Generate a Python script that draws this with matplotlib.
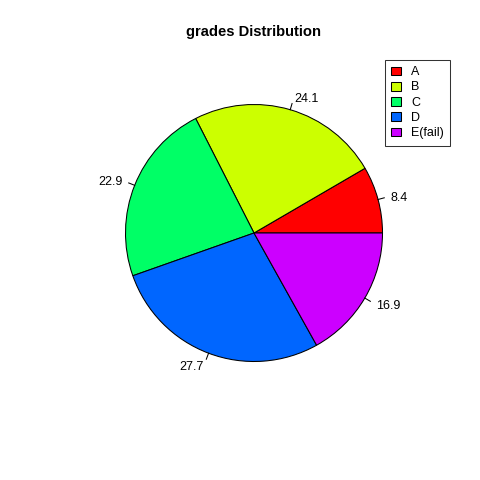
import numpy as np
import matplotlib.pyplot as plt

# Datos del gráfico
grades = ['A', 'B', 'C', 'D', 'E(fail)']
percent = [8.4, 24.1, 22.9, 27.7, 16.9]
colors = ['#FF0000', '#CCFF00', '#00FF66', '#0066FF', '#CC00FF']

plt.rcParams['font.family'] = ['Liberation Sans', 'DejaVu Sans']

fig = plt.figure(figsize=(4.8, 4.8), dpi=100)
ax = fig.add_axes([0, 0, 1, 1])

# Pie al estilo de R: empieza a las 3 en punto, sentido antihorario
wedges, _ = ax.pie(percent, colors=colors, startangle=0, counterclock=True,
                   radius=1, wedgeprops=dict(edgecolor='black', linewidth=0.75))

# Etiquetas con su marca, como hace pie() de R
frac = np.cumsum([0] + percent) / sum(percent)
for i, val in enumerate(percent):
    ang = 2 * np.pi * (frac[i] + frac[i + 1]) / 2
    c, s = np.cos(ang), np.sin(ang)
    ax.plot([c, 1.05 * c], [s, 1.05 * s], color='black', lw=0.75)
    ax.text(1.1 * c, 1.1 * s - 0.015, f'{val}', fontsize=9,
            ha='left' if c > 0 else 'right', va='center')

r = 128.5
ax.set_xlim(-254 / r, (480 - 254) / r)
ax.set_ylim(-247 / r, 233 / r)
ax.set_aspect('auto')
ax.axis('off')

fig.text(0.528, 1 - 32 / 480, 'grades Distribution', fontsize=10.6,
         fontweight='bold', ha='center', va='center')

leg = fig.legend(wedges, grades, loc='upper right',
                 bbox_to_anchor=(450 / 480, 1 - 60 / 480), fontsize=9,
                 frameon=True, fancybox=False, edgecolor='black',
                 handlelength=0.8, handleheight=0.7, handletextpad=0.8,
                 labelspacing=0.26, borderpad=0.5, borderaxespad=0)
leg.get_frame().set_linewidth(0.75)

fig.savefig('out.png', dpi=100)
